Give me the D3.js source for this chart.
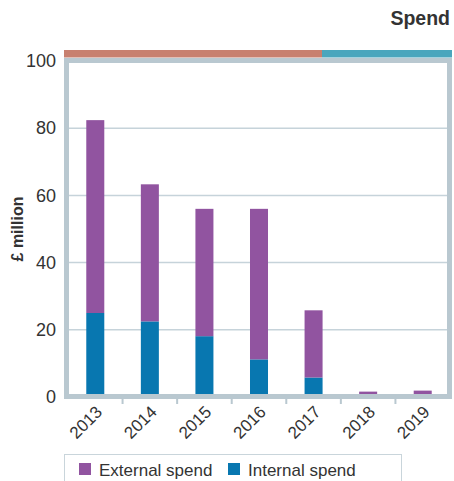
<!DOCTYPE html>
<html>
<head>
<meta charset="utf-8">
<script src="https://cdn.jsdelivr.net/npm/d3@7"></script>
<style>
  html, body { margin: 0; padding: 0; background: #fff; }
  svg { display: block; font-family: "Liberation Sans", Arial, Helvetica, sans-serif; }
</style>
</head>
<body>
<svg id="chart" width="454" height="481"></svg>
<script>
// Spend by year, split into internal and external (£ million)
const years = ["2013", "2014", "2015", "2016", "2017", "2018", "2019"];
const internalSpend = [25.0, 22.5, 18.1, 11.2, 5.8, 0.7, 0.7];
const externalSpend = [57.4, 40.8, 37.9, 44.8, 20.0, 0.9, 1.2];
const yTicks = [0, 20, 40, 60, 80, 100];
const seriesNames = ["Internal spend", "External spend"];
const legendOrder = ["External spend", "Internal spend"];

const colors = {
  "Internal spend": "#0877b0",
  "External spend": "#9154a0"
};
const frameColor = "#b9c8d0";
const gridColor = "#c6d3da";
const textColor = "#333333";

const svg = d3.select("#chart");

const x = d3.scaleBand().domain(years).range([68, 450]).paddingInner(0.67).paddingOuter(0.335);
const bandStep = x.step();
const y = d3.scaleLinear().domain([0, 100]).range([397, 61]);

const rows = years.map((yr, i) => ({
  year: yr,
  "Internal spend": internalSpend[i],
  "External spend": externalSpend[i]
}));
const stacked = d3.stack().keys(seriesNames)(rows);

// Title
svg.append("text")
  .attr("x", 450).attr("y", 25)
  .attr("text-anchor", "end")
  .attr("font-size", 19.5).attr("font-weight", "bold")
  .attr("fill", textColor)
  .text("Spend");

// Coloured period strip above the plot
svg.append("rect").attr("x", 64).attr("y", 50).attr("width", 258).attr("height", 7.5).attr("fill", "#c8806f");
svg.append("rect").attr("x", 322).attr("y", 50).attr("width", 130).attr("height", 7.5).attr("fill", "#4aa6bd");

// Gridlines
svg.append("g")
  .selectAll("line")
  .data(yTicks.filter(d => d > 0 && d < 100))
  .join("line")
  .attr("x1", 68).attr("x2", 448)
  .attr("y1", d => y(d)).attr("y2", d => y(d))
  .attr("stroke", gridColor).attr("stroke-width", 1.5);

// Bars
svg.append("g")
  .selectAll("g")
  .data(stacked)
  .join("g")
  .attr("fill", d => colors[d.key])
  .selectAll("rect")
  .data(d => d)
  .join("rect")
  .attr("x", d => x(d.data.year))
  .attr("width", x.bandwidth())
  .attr("y", d => y(d[1]))
  .attr("height", d => y(d[0]) - y(d[1]));

// Frame around the plot
svg.append("rect")
  .attr("x", 66.5).attr("y", 60.5)
  .attr("width", 383).attr("height", 336)
  .attr("fill", "none")
  .attr("stroke", frameColor).attr("stroke-width", 5);

// Y axis labels
const yAxis = d3.axisLeft(y).tickValues(yTicks).tickSize(0).tickPadding(8);
const gy = svg.append("g").attr("transform", "translate(64,0)").call(yAxis);
gy.select(".domain").remove();
gy.selectAll("text")
  .attr("font-size", 18).attr("fill", textColor)
  .attr("font-family", "Liberation Sans, Arial, sans-serif");

// Axis title
svg.append("text")
  .attr("transform", "translate(23,229) rotate(-90)")
  .attr("text-anchor", "middle")
  .attr("font-size", 16).attr("font-weight", "bold")
  .attr("fill", textColor)
  .text("£ million");

// X axis: tick marks at band boundaries, rotated year labels
const boundaries = years.slice(1).map(yr => x(yr) - (bandStep - x.bandwidth()) / 2);
svg.append("g")
  .selectAll("line")
  .data(boundaries)
  .join("line")
  .attr("x1", d => d).attr("x2", d => d)
  .attr("y1", 398).attr("y2", 404)
  .attr("stroke", frameColor).attr("stroke-width", 2);

const xAxis = d3.axisBottom(x).tickSize(0).tickPadding(0);
const gx = svg.append("g").attr("transform", "translate(0,398)").call(xAxis);
gx.select(".domain").remove();
gx.selectAll("text")
  .attr("font-size", 17).attr("fill", textColor)
  .attr("font-family", "Liberation Sans, Arial, sans-serif")
  .attr("text-anchor", "end")
  .attr("dy", null)
  .attr("transform", "translate(8,15) rotate(-45)");

// Legend
const legend = svg.append("g");
legend.append("rect")
  .attr("x", 64.5).attr("y", 454.5)
  .attr("width", 337).attr("height", 40)
  .attr("fill", "none").attr("stroke", "#c9d5db").attr("stroke-width", 1);
const legendX = [79, 228];
legendOrder.forEach((name, i) => {
  legend.append("rect")
    .attr("x", legendX[i]).attr("y", 463)
    .attr("width", 12).attr("height", 12)
    .attr("fill", colors[name]);
  legend.append("text")
    .attr("x", legendX[i] + 20).attr("y", 475.5)
    .attr("font-size", 17).attr("fill", textColor)
    .text(name);
});
</script>
</body>
</html>
